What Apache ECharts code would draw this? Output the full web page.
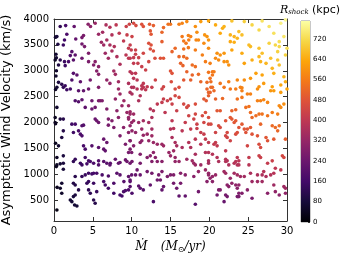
<!DOCTYPE html>
<html><head><meta charset="utf-8">
<script src="https://cdn.jsdelivr.net/npm/echarts@6/dist/echarts.min.js"></script>
<style>html,body{margin:0;padding:0;background:#fff}#c{width:352px;height:264px}</style>
</head><body><div id="c"></div>
<script>
// [Mdot (Msun/yr), velocity (km/s), R_shock (kpc)], by region
const edgePoints = [[0.2,3650,61],[0.3,3000,67],[0.25,3320,65],[0.2,2640,52],[0.15,2000,39],[0.2,1980,45],[0.2,1600,40],[0.3,1150,42],[0.4,750,39],[0.25,2900,61],[0.3,3250,70]];
const upperLeft = [[0.8,3854,125],[1.5,3873,171],[2.6,3854,225],[4.4,3899,295],[4.7,3854,303],[5.3,3918,324],[6.7,3886,363],[7.2,3841,374],[8.0,3886,397],[9.3,3854,426],[9.7,3899,438],
[0.37,3660,83],[1.35,3596,157],[1.65,3705,176],[3.6,3641,258],[3.8,3680,266],[2.8,3615,226],[5.74,3705,328],[6.26,3744,344],[6.8,3596,352],[7.46,3693,373],[8.4,3725,398],[9.4,3693,419],[6.1,3551,331],[8.96,3576,403],
[0.5,3512,94],[1.2,3499,146],[3.6,3518,253],[3.93,3467,263],[6.4,3499,337],[7.2,3499,357],[7.76,3467,369],[9.8,3499,417],[2.3,3370,198],[2.73,3306,214],[2.1,3293,187],[4.45,3338,274],[6.6,3338,334],[7.46,3383,357],[9.27,3306,394],
[0.15,3209,49],[0.8,3209,114],[1.35,3177,147],[1.87,3177,173],[2.5,3209,202],[3.6,3241,243],[7.0,3241,339],[8.1,3273,366],[9.6,3241,397],[0.58,3112,96],[1.44,3099,150],[4.45,3177,268],[5.3,3177,292],[5.1,3112,283],[5.74,3080,299],[8.5,3125,367],
[2.5,2951,193],[2.95,2918,209],[5.5,2996,289],[5.74,2931,292],[7.7,2996,342],[7.9,2931,342],[9.8,2983,385],[0.58,2777,90],[1.0,2738,118],[1.44,2712,141],[2.3,2822,181],[3.4,2789,219],[4.67,2822,258],[6.8,2822,312],[7.2,2757,317],[8.3,2789,342],[9.6,2757,366]];
const upperMid = [[10.25,3918,451],[10.55,3873,455],[11.3,3899,472],[11.5,3854,474],[12.3,3899,493],[12.8,3873,501],[14.1,3834,523],[14.7,3899,538],[15.0,3899,544],[16.1,3899,564],[16.5,3918,572],[17.1,3950,585],[18.2,3854,596],[18.9,3950,615],[19.9,3963,632],
[10.04,3660,431],[12.4,3770,486],[12.5,3705,485],[13.9,3744,514],[16.5,3660,553],[17.3,3680,568],[17.6,3660,571],[18.4,3744,591],[19.4,3693,602],[19.7,3660,604],[18.3,3596,577],
[12.2,3531,467],[12.5,3499,471],[13.9,3563,501],[16.7,3576,550],[17.0,3531,551],[17.35,3596,562],[18.6,3596,581],[19.3,3531,587],[19.9,3596,602],
[9.6,3434,409],[9.95,3402,414],[10.5,3402,425],[12.4,3422,463],[12.8,3383,469],[15.2,3370,509],[15.6,3434,521],[16.7,3422,538],[17.3,3447,550],[18.2,3402,560],[19.9,3434,588],
[10.5,3318,420],[11.5,3338,441],[9.8,3241,401],[10.25,3254,411],[10.9,3254,423],[13.0,3241,462],[13.7,3241,474],[14.1,3241,480],[16.1,3273,516],[16.7,3273,526],[17.1,3241,530],[19.1,3306,565],
[10.25,3144,404],[10.8,3144,415],[11.3,3080,420],[12.2,3177,443],[16.3,3144,510],[16.6,3099,510],[17.8,3112,530],[19.5,3177,560],[20.1,3144,565],[18.2,3080,533],
[10.04,2951,387],[10.5,2951,396],[11.8,3015,425],[15.0,2996,477],[15.2,2951,477],[17.1,2983,509],[17.8,2918,513],[18.6,2931,525],[19.9,2970,547],[20.4,2983,555],
[10.25,2854,385],[10.7,2822,391],[11.5,2757,400],[11.3,2712,394],[12.0,2693,404],[13.05,2822,431],[14.1,2693,438],[15.1,2789,462],[16.7,2822,489],[17.6,2822,502],[18.9,2789,517],[19.7,2777,527],[20.1,2854,538]];
const upperRight = [[22.9,3963,678],[24.5,3950,700],[26.8,3963,733],[25.5,3886,708],[29.2,3918,761],[29.8,3983,775],[20.8,3886,640],[21.7,3822,648],[21.9,3854,654],[21.4,3725,636],[23.8,3757,673],[26.4,3789,712],[27.7,3854,735],[28.3,3725,730],[29.6,3660,740],
[22.7,3693,651],[23.2,3660,656],[23.6,3628,659],[24.2,3693,673],[22.7,3563,639],[23.2,3551,646],[29.0,3563,724],[25.1,3499,667],[25.3,3467,666],[26.4,3434,678],[26.8,3338,673],[27.7,3531,703],[28.5,3499,711],[28.8,3370,701],[29.0,3467,714],[30.0,3434,723],[29.8,3306,706],
[21.0,3338,595],[21.4,3306,599],[21.9,3338,608],[22.9,3402,628],[20.8,3241,584],[21.2,3209,587],[22.3,3177,598],[22.5,3112,595],[21.9,3177,593],[24.2,3338,640],[24.5,3144,625],[25.5,3209,644],[26.4,3273,662],[26.6,3177,654],[27.9,3241,676],[27.3,3144,659],[28.8,3209,685],[29.0,3112,676],[28.1,3047,658],
[28.3,2951,650],[26.8,2918,629],[26.0,2951,623],[25.3,2854,605],[24.5,2822,592],[23.6,2822,581],[21.4,2757,547],[20.6,2983,558],[20.4,2918,549],[20.2,2789,533],[22.5,2789,563],[29.6,2886,658],[29.8,2789,649],[29.2,2725,635],[27.0,2757,614],[28.1,2693,619],[26.4,2693,600],[24.2,2673,572]];
const midLeft = [[0.37,2680,71],[1.2,2680,128],[1.65,2635,147],[2.1,2648,168],[3.16,2615,205],[3.8,2615,224],[4.45,2648,244],[5.74,2680,280],[8.3,2648,334],[8.5,2551,332],[9.8,2583,358],[10.0,2680,368],
[2.73,2422,183],[3.16,2402,196],[3.6,2441,211],[4.88,2422,245],[5.74,2422,266],[5.95,2422,270],[6.2,2422,276],[7.9,2454,313],[9.0,2422,332],[8.75,2325,321],[9.6,2325,336],
[0.37,2293,66],[5.3,2293,248],[4.02,2293,215],[4.88,2261,236],[6.8,2261,279],[8.1,2228,303],[9.4,2196,324],[9.8,2164,328],[0.8,2067,91],[1.2,2067,113],[0.15,2099,40],[5.3,2067,235],[5.5,2035,239],[5.74,2003,242],[7.0,2067,271],[7.46,2035,277],[8.3,2099,297],[9.6,2099,319],[10.0,2003,318],
[2.3,1970,152],[2.73,1970,165],[3.6,1938,188],[3.8,1951,194],[7.0,1951,263],[7.7,1906,272],[8.96,1906,294],[9.8,1938,310],
[1.2,1841,106],[2.5,1809,151],[3.16,1841,172],[3.4,1777,174],[3.6,1744,179],[1.0,1712,93],[6.4,1680,233],[6.8,1616,236],[8.5,1744,274],[9.6,1809,297],[9.8,1648,286],
[0.58,1551,67],[3.8,1551,173],[4.02,1487,174],[4.88,1551,196],[5.74,1519,210],[6.4,1487,220],[6.6,1454,221],[9.2,1583,271],[9.8,1487,272],[10.0,1422,268],
[0.37,1325,50],[1.2,1358,91],[2.73,1293,133],[4.02,1325,164],[4.45,1261,169],[5.74,1261,192],[7.9,1293,227],[8.5,1229,230],[7.25,1216,211],[9.2,1280,244]];
const midMid = [[10.25,2680,373],[10.7,2648,379],[11.3,2648,389],[11.8,2635,397],[11.5,2680,395],[12.6,2680,414],[13.9,2648,432],[15.6,2648,457],[16.1,2680,467],[19.7,2648,514],[19.9,2583,510],[20.4,2680,527],
[10.04,2551,360],[11.1,2518,376],[10.9,2422,365],[14.1,2454,418],[13.9,2390,410],[13.3,2357,399],[14.6,2422,423],[15.0,2454,431],[15.2,2357,426],[15.6,2518,446],[16.1,2486,450],[16.7,2357,447],[17.1,2293,446],[17.3,2325,451],[18.2,2357,466],[19.3,2454,489],[19.6,2422,490],[20.1,2583,512],
[9.8,2209,331],[10.25,2164,335],[12.4,2261,377],[12.8,2228,380],[14.3,2196,398],[15.8,2228,422],[17.35,2132,433],[18.2,2164,447],[19.1,2132,454],[19.5,2196,466],[19.9,2099,460],
[9.6,2067,317],[10.25,2035,325],[10.9,2003,332],[11.5,2035,344],[12.2,2003,351],[12.6,2099,366],[15.2,2035,396],[16.9,2003,414],[18.0,2067,434],[18.4,1970,429],[19.3,2003,442],
[10.04,1841,306],[10.5,1809,310],[11.3,1874,327],[11.5,1757,320],[12.0,1777,328],[12.6,1874,346],[12.6,1744,334],[15.0,1874,377],[15.4,1886,383],[16.5,1841,392],[17.6,1874,409],[18.4,1886,419],[18.9,1809,416],[19.3,1777,416],
[9.8,1648,286],[10.25,1551,284],[11.1,1616,301],[11.3,1648,307],[12.2,1648,319],[12.8,1616,324],[13.3,1583,327],[13.9,1583,334],[14.1,1551,332],[15.2,1712,363],[15.6,1616,357],[15.8,1551,352],[16.5,1519,356],[17.35,1616,377],[17.6,1519,368],[18.2,1680,394],[18.9,1583,389],[19.5,1680,408],[19.9,1616,403],
[9.6,1422,263],[11.1,1390,279],[12.0,1325,283],[12.4,1358,292],[12.8,1422,304],[13.05,1325,296],[14.8,1422,326],[15.0,1358,321],[15.4,1454,336],[15.6,1325,324],[17.8,1261,337],[18.2,1390,358],[19.5,1422,375],[19.9,1261,356],[17.1,1293,335]];
const midRight = [[20.2,2680,523],[20.6,2615,523],[21.9,2680,545],[22.7,2648,551],[23.4,2648,560],[24.0,2680,571],[24.2,2615,566],[24.9,2551,567],[25.3,2551,571],[26.2,2648,593],[27.9,2615,608],[28.3,2615,612],[29.2,2583,617],[30.0,2648,635],
[19.9,2518,504],[20.8,2454,508],[21.7,2466,521],[23.6,2454,541],[24.2,2486,552],[26.2,2422,567],[26.6,2422,571],[27.0,2441,578],[27.5,2390,576],[29.0,2325,585],[29.2,2293,582],[29.6,2357,594],
[21.0,2228,486],[21.4,2228,492],[22.9,2228,509],[23.4,2248,516],[24.7,2293,535],[25.1,2312,542],[25.3,2196,530],[25.5,2099,521],[26.0,2132,530],[26.4,2164,538],[26.8,2164,542],[27.5,2132,544],[28.1,2196,559],[28.8,2164,562],
[19.9,1970,446],[20.2,1970,449],[21.2,1938,455],[21.4,1906,455],[22.1,2035,477],[22.7,2099,491],[22.9,2067,490],[23.2,2003,485],[23.4,2035,491],[23.8,1906,479],[24.2,1970,492],[24.5,1874,482],[24.9,1874,486],[25.3,1906,494],[26.6,1970,515],[28.1,1938,525],[28.5,1906,524],[29.0,1938,534],[28.8,1841,518],
[20.8,1809,436],[22.3,1809,452],[23.4,1777,459],[23.6,1809,465],[24.7,1809,476],[25.5,1777,479],[26.2,1744,481],[27.3,1712,486],[27.5,1648,478],[28.3,1680,491],[29.8,1680,503],[22.1,1744,442],[22.3,1712,439],[22.7,1648,435],[20.8,1616,412],[21.0,1551,406],[20.6,1583,406],[22.1,1454,403],[24.9,1551,442],[26.4,1583,460],[26.6,1519,453],
[19.9,1422,378],[20.4,1390,379],[21.0,1325,375],[22.1,1293,380],[22.3,1261,377],[23.6,1325,398],[23.8,1261,390],[25.1,1325,410],[26.4,1358,426],[26.6,1325,423],[28.1,1261,423],[29.4,1358,449],[29.6,1325,446]];
const lowLeft = [[0.37,1183,47],[0.8,1203,69],[1.2,1216,86],[1.2,1099,82],[2.5,1248,126],[3.4,1216,144],[3.6,1183,147],[4.24,1203,161],[4.67,1248,172],[5.1,1216,177],[5.74,1183,186],[6.4,1248,201],[6.8,1216,205],[7.2,1183,207],[8.3,1216,226],[9.4,1248,244],[9.8,1216,246],
[2.73,958,115],[3.6,958,132],[4.02,990,142],[4.45,1022,152],[4.88,1009,158],[5.1,1022,162],[5.5,1022,169],[6.2,990,176],[7.0,970,186],[8.1,1022,205],[8.5,990,207],[9.6,958,216],[10.0,990,224],
[1.0,829,65],[2.5,829,102],[2.73,796,105],[4.24,829,133],[4.45,861,139],[5.1,829,146],[6.4,861,167],[6.6,796,163],[7.7,829,179],[9.0,861,198],[9.8,893,210],
[0.8,732,54],[1.0,635,57],[3.16,700,106],[4.45,700,126],[4.67,635,122],[5.5,667,137],[7.0,732,161],[7.7,635,157],[8.96,667,174],[9.2,687,179],[9.6,700,184],[9.8,764,195],
[2.1,506,73],[2.3,474,74],[2.5,571,85],[2.73,603,91],[2.65,409,74],[2.95,390,76],[5.1,506,114],[5.3,442,109],[8.5,603,161],[8.75,583,161],[0.37,313,24]];
const lowMid = [[10.04,1248,252],[11.1,1216,261],[12.6,1248,282],[13.3,1248,290],[13.9,1248,297],[15.6,1248,314],[16.1,1248,319],[18.0,1216,333],[18.2,1183,330],[18.9,1183,337],[19.9,1216,350],
[10.5,990,229],[11.1,990,236],[10.7,1087,243],[12.0,1054,253],[12.6,1022,255],[13.48,990,260],[13.9,1054,272],[14.6,958,266],[15.0,990,274],[15.4,990,278],[16.3,1022,290],[16.9,990,291],[18.0,958,295],[18.6,1054,315],[19.5,1087,328],[19.9,1022,321],[20.1,925,306],
[9.8,861,207],[10.9,777,207],[11.1,732,203],[11.5,700,202],[12.4,796,224],[13.3,893,245],[13.7,893,249],[14.1,764,233],[13.9,700,222],[15.4,829,254],[16.3,829,262],[15.8,732,242],[18.6,667,250],[19.7,861,293],
[12.8,474,175],[18.2,422,197],[16.1,583,218],[16.9,583,223],[10.04,635,180]];
const lowRight = [[21.2,1248,366],[22.1,1248,374],[22.5,1183,367],[23.2,1216,378],[23.4,1248,385],[23.6,1183,376],[23.8,1183,378],[25.1,1183,388],[27.5,1216,411],[28.5,1119,399],[29.2,1087,401],
[19.9,990,316],[20.4,958,315],[20.8,990,323],[21.9,1054,342],[22.1,1022,338],[22.7,925,326],[23.2,1022,347],[23.6,990,344],[24.0,958,341],[24.5,958,345],[25.3,1022,362],[25.5,861,333],[26.2,990,362],[26.8,990,367],[27.0,1054,380],[27.3,958,363],[27.9,990,374],[28.3,1022,383],
[20.4,861,298],[21.2,700,274],[21.4,700,275],[22.3,796,300],[22.5,764,295],[22.9,829,310],[23.4,796,307],[23.8,796,310],[23.6,732,296],[23.8,635,277],[24.2,635,279],[24.9,700,297],[26.2,861,338],[26.8,861,342],[27.5,635,297],[28.3,796,338],[28.5,667,310],[29.0,603,298],[29.6,764,338],[29.8,635,310],[29.8,732,333],
[21.0,603,253],[21.9,474,229],[22.1,603,260],[22.3,571,254],[23.6,571,261],[23.8,571,263],[25.5,538,264]];

const xTicks = [0, 5, 10, 15, 20, 25, 30];
const yTicks = [500, 1000, 1500, 2000, 2500, 3000, 3500, 4000];
const cbarTicks = [0, 80, 160, 240, 320, 400, 480, 560, 640, 720];
const rMax = 790;
const inferno = ['#000004','#160b39','#420a68','#6a176e','#932667','#bc3754','#dd513a','#f37819','#fca50a','#f6d746','#fcffa4'];

const points = [].concat(edgePoints, upperLeft, upperMid, upperRight, midLeft, midMid, midRight, lowLeft, lowMid, lowRight);

const chart = echarts.init(document.getElementById('c'), null, {renderer: 'canvas'});
const axisCol = '#333';
const font = 'DejaVu Sans';
const plain = v => String(v);
const xCommon = {type: 'value', min: 0, max: 30, interval: 5, gridIndex: 0, splitLine: {show: false},
  axisLine: {show: true, onZero: false, lineStyle: {color: axisCol, width: 1}},
  axisTick: {show: true, inside: true, length: 4, lineStyle: {color: axisCol}}};
const yCommon = {type: 'value', min: 100, max: 4000, gridIndex: 0, splitLine: {show: false},
  axisLine: {show: true, onZero: false, lineStyle: {color: axisCol, width: 1}},
  axisTick: {show: true, inside: true, length: 4, customValues: yTicks, lineStyle: {color: axisCol}}};

chart.setOption({
  animation: false,
  grid: [
    {left: 54, top: 19, width: 233, height: 202, containLabel: false, outerBoundsMode: 'none'},
    {left: 301, top: 21, width: 9, height: 201, show: true, borderColor: '#777', borderWidth: 0.8, containLabel: false, outerBoundsMode: 'none'}
  ],
  visualMap: {type: 'continuous', show: false, dimension: 2, seriesIndex: 0, min: 0, max: rMax, inRange: {color: inferno}},
  xAxis: [
    Object.assign({}, xCommon, {position: 'bottom',
      axisLabel: {show: true, fontFamily: font, fontSize: 10, color: '#000', margin: 5, customValues: xTicks, formatter: plain},
      name: '{i|Ṁ}    {i|(M}{s|⊙}{i|/yr)}', nameLocation: 'middle', nameGap: 16,
      nameTextStyle: {rich: {
        i: {fontFamily: 'DejaVu Serif', fontStyle: 'italic', fontSize: 12, color: '#000'},
        s: {fontFamily: 'DejaVu Serif', fontSize: 8, color: '#000', padding: [7, 0, 0, 0]}
      }}}),
    {type: 'category', gridIndex: 1, data: [''], show: false},
    Object.assign({}, xCommon, {position: 'top', axisLabel: {show: false}})
  ],
  yAxis: [
    Object.assign({}, yCommon, {position: 'left',
      axisLabel: {show: true, fontFamily: font, fontSize: 10, color: '#000', margin: 5, customValues: yTicks, formatter: plain},
      name: 'Asymptotic Wind Velocity (km/s)', nameLocation: 'middle', nameGap: 35,
      nameTextStyle: {fontFamily: font, fontSize: 13, color: '#000'}}),
    {type: 'value', gridIndex: 1, min: 0, max: rMax, position: 'right', splitLine: {show: false},
      axisLine: {show: false},
      axisTick: {show: true, inside: true, length: 2, customValues: cbarTicks, lineStyle: {color: '#333'}},
      axisLabel: {show: true, fontFamily: font, fontSize: 7, color: '#000', margin: 3, customValues: cbarTicks, formatter: plain},
      name: '{r|R}{s|shock} {k|(kpc)}', nameLocation: 'end', nameGap: 5,
      nameTextStyle: {align: 'center', rich: {
        r: {fontFamily: 'DejaVu Serif', fontStyle: 'italic', fontSize: 11, color: '#000'},
        s: {fontFamily: 'DejaVu Serif', fontStyle: 'italic', fontSize: 7, color: '#000', padding: [5, 0, 0, 0]},
        k: {fontFamily: font, fontSize: 11, color: '#000'}
      }}},
    Object.assign({}, yCommon, {position: 'right', axisLabel: {show: false}})
  ],
  series: [
    {type: 'scatter', xAxisIndex: 0, yAxisIndex: 0, data: points, symbol: 'circle', symbolSize: 3.6,
      itemStyle: {opacity: 1}, silent: true},
    {type: 'bar', xAxisIndex: 1, yAxisIndex: 1, data: [rMax], barWidth: '100%', silent: true,
      itemStyle: {color: new echarts.graphic.LinearGradient(0, 1, 0, 0,
        inferno.map((c, i) => ({offset: i / (inferno.length - 1), color: c})))}}
  ]
});
</script></body></html>
